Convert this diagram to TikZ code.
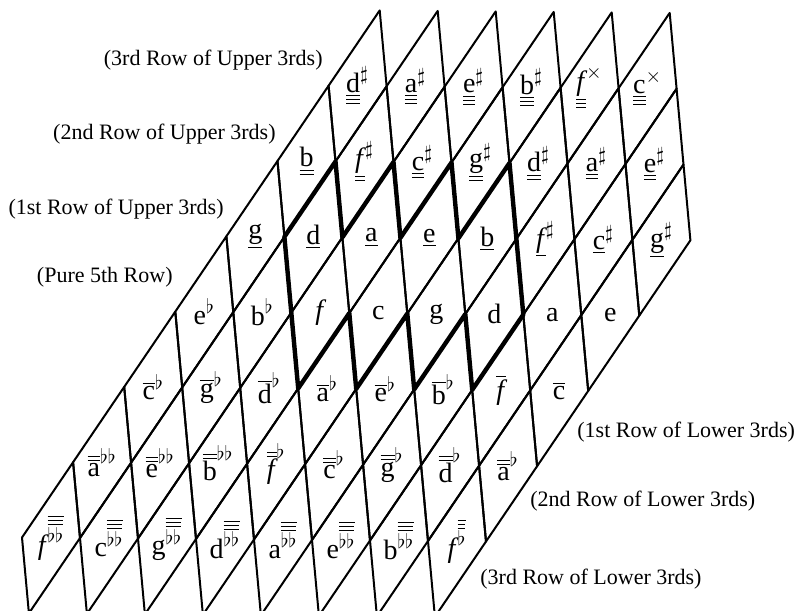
\documentclass[tikz,border=0pt]{standalone}
\usepackage{fontspec}
\setmainfont{Liberation Serif}
\usetikzlibrary{positioning}

\newcommand\ltr[1]{\hbox{#1}}
\newcommand\itf{\itshape f\kern1pt}
\newcommand\uI[1]{\underline{\ltr{#1}}}
\newcommand\uII[1]{\underline{\underline{\ltr{#1}}}}
\newcommand\uIII[1]{\underline{\underline{\underline{\ltr{#1}}}}}
\newcommand\oI[1]{\overline{\ltr{#1}}}
\newcommand\oII[1]{\overline{\overline{\ltr{#1}}}}
\newcommand\fl{^{\flat}}
\newcommand\ffl{^{\flat\flat}}
\newcommand\sh{^{\sharp}}
\newcommand\xsh{^{\times}}
\newcommand\tfl{^{\overline{\overline{\overline{\flat}}}}}
\newcommand\tffl{^{\overline{\overline{\overline{\flat\flat}}}}}

\begin{document}
\begin{tikzpicture}[
    x=0.5pt, y=-0.5pt,
    grid/.style={line width=1pt, line join=round},
    hexa/.style={line width=2.2pt, line join=round},
    note/.style={font=\fontsize{14}{16}\selectfont, inner sep=0pt},
    rowlbl/.style={font=\fontsize{11}{13}\selectfont, inner sep=0pt}
  ]
  \useasboundingbox (0,0) rectangle (794,611);

  \node[rowlbl, anchor=base east] (up3) at (323,65)  {(3rd Row of Upper 3rds)};
  \node[rowlbl, anchor=base east] (up2) at (276,139) {(2nd Row of Upper 3rds)};
  \node[rowlbl, anchor=base east] (up1) at (224,214) {(1st Row of Upper 3rds)};
  \node[rowlbl, anchor=base east] (pure) at (173,282) {(Pure 5th Row)};
  \node[rowlbl, anchor=base west] (lo1) at (577,437) {(1st Row of Lower 3rds)};
  \node[rowlbl, anchor=base west] (lo2) at (530,506) {(2nd Row of Lower 3rds)};
  \node[rowlbl, anchor=base west] (lo3) at (480,584) {(3rd Row of Lower 3rds)};

  \begin{scope}[shift={(22,537.5)}, x={(25.55pt,37.65pt)}, y={(3.45pt,-37.9pt)}]
    \foreach \k/\notes in {
        0/{\ltr{\itf}\tffl, \ltr{c}\tffl, \ltr{g}\tffl, \ltr{d}\tffl, \ltr{a}\tffl, \ltr{e}\tffl, \ltr{b}\tffl, \ltr{\itf}\tfl},
        1/{\oII{a}\ffl, \oII{e}\ffl, \oII{b}\ffl, \oII{\itf}\fl, \oII{c}\fl, \oII{g}\fl, \oII{d}\fl, \oII{a}\fl},
        2/{\oI{c}\fl, \oI{g}\fl, \oI{d}\fl, \oI{a}\fl, \oI{e}\fl, \oI{b}\fl, \oI{\itf}, \oI{c}},
        3/{\ltr{e}\fl, \ltr{b}\fl, \ltr{\itf}, \ltr{c}, \ltr{g}, \ltr{d}, \ltr{a}, \ltr{e}},
        4/{\uI{g}, \uI{d}, \uI{a}, \uI{e}, \uI{b}, \uI{\itf}\sh, \uI{c}\sh, \uI{g}\sh},
        5/{\uII{b}, \uII{\itf}\sh, \uII{c}\sh, \uII{g}\sh, \uII{d}\sh, \uII{a}\sh, \uII{e}\sh},
        6/{\uIII{d}\sh, \uIII{a}\sh, \uIII{e}\sh, \uIII{b}\sh, \uIII{\itf}\xsh, \uIII{c}\xsh}}{
      \foreach \lab [count=\j from 0] in \notes {
        \pgfmathtruncatemacro\i{\k+\j}
        \draw[grid] (\i,\j) -- (\i+1,\j) -- (\i+1,\j+1) -- (\i,\j+1) -- cycle;
        \node[note] (n\k-\j) at (\i+0.5,\j+0.5) {$\lab$};
      }
    }
    \draw[hexa] (5,1) -- (6,1) -- (6,2) -- (7,2) -- (7,3) -- (8,3) -- (8,4) -- (9,4)
      -- (9,6) -- (8,6) -- (8,5) -- (7,5) -- (7,4) -- (6,4) -- (6,3) -- (5,3) -- cycle;
  \end{scope}
\end{tikzpicture}
\end{document}
